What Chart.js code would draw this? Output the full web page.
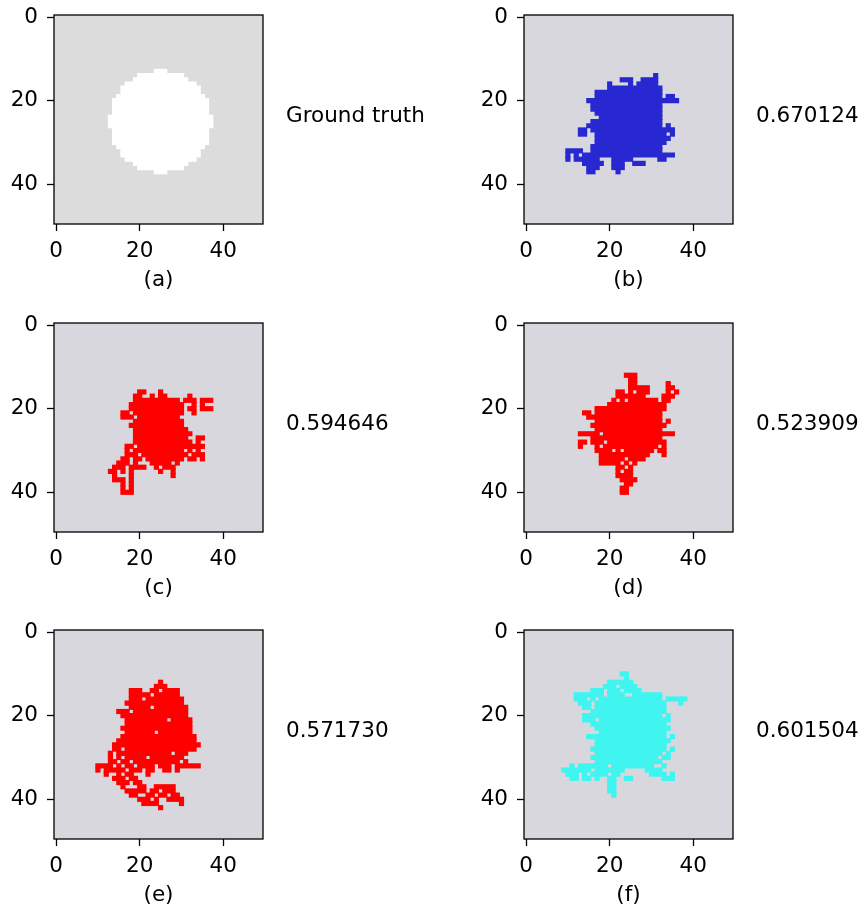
<!DOCTYPE html>
<html>
<head>
<meta charset="utf-8">
<script src="https://cdn.jsdelivr.net/npm/chart.js@4.4.0/dist/chart.umd.min.js"></script>
<style>
  html, body { margin: 0; padding: 0; background: #fff; overflow: hidden; width: 864px; height: 909px; position: relative; }
  canvas { position: absolute; }
</style>
</head>
<body>
<canvas id="pa" width="470" height="300" style="left:0px;top:0px"></canvas>
<canvas id="pb" width="470" height="300" style="left:470px;top:0px"></canvas>
<canvas id="pc" width="470" height="300" style="left:0px;top:308px"></canvas>
<canvas id="pd" width="470" height="300" style="left:470px;top:308px"></canvas>
<canvas id="pe" width="470" height="300" style="left:0px;top:615px"></canvas>
<canvas id="pf" width="470" height="300" style="left:470px;top:615px"></canvas>
<script>
// each mask line is "row:colStart-colEnd,col,..." (pixel runs of the 50x50 image)
const maskA = ["13:24-26","14:20-30","15:19-31","16:17-33","17:16-34","18:16-34","19:15-35",
  "20:14-36","21:14-36","22:14-36","23:14-36","24:13-37","25:13-37","26:13-37","27:14-36",
  "28:14-36","29:14-36","30:14-36","31:15-35","32:16-34","33:16-34","34:17-33","35:19-31",
  "36:20-30","37:24-26"];
const maskB = ["14:31","15:23-25,28-31","16:20,25,27-31","17:20-32","18:17-32","19:17-32,34-35",
  "20:15-36","21:16-32","22:16-32","23:17-32","24:18-32","25:16-32","26:15-32,34","27:13-14,16-35",
  "28:13-14,17-33,35","29:17-34","30:17-33","31:16-32","32:10-13,16-32","33:10,12,14-35",
  "34:10,12-17,21-25,32-33","35:14-18,21-23,26-28","36:15-17,21-23","37:15-16,22"];
const maskC = ["16:20-21,25","17:19-20,23,25-26,32","18:19-29,31-33,35-37","19:18-30,33,35",
  "20:18-30,32-33,35-37","21:16-17,19-30,33","22:16-18,20-29","23:19-30","24:18-30","25:19-31",
  "26:19-32","27:19-31,34-35","28:19-32,34","29:17-18,20-35","30:17,19-30,32,34",
  "31:17-19,21-31,33-35","32:16-17,19-20,22-30,32-33,35","33:15-17,19,23-27,29",
  "34:14-16,18-21,24,26-28","35:13-14,16,18,25,28","36:14,18,28","37:14-16,18","38:16,18",
  "39:16,18","40:16-18"];
const maskD = ["12:24-26","13:25-26","14:25-26,34","15:25-29,34-35","16:22-23,25,27-29,34,36",
  "17:22-28,33-35","18:21,23,25-31,33-34","19:20-33","20:17-33","21:14-15,17-32","22:15-32",
  "23:17-32,34","24:16-33","25:17-32","26:13-17,19-35","27:16-32","28:13-14,16-18,20-33",
  "29:13,17,19-31,33","30:17-20,22,24-30,32-33","31:18-29,33","32:18-23,25-28","33:18-22,24,26",
  "34:22-23,25","35:22,24-25","36:22-25","37:23-26","38:24-25","39:23-24","40:23-24"];
const maskE = ["12:25","13:24-26","14:18-20,23-24,26-29","15:18-22,24-29","16:18-20,22-30","17:17-30",
  "18:18-22,24-31","19:15-17,19-31","20:16-31","21:17-26,28-32","22:17-32","23:16-32","24:17-23,25-32",
  "25:16-33","26:15-33","27:14-34","28:14-15,17-33","29:13,15-27,29-31","30:13,15,17-21,23-30",
  "31:13-14,16-17,19-29,31","32:10-13,15,17-18,20-23,25-27,29-34","33:10,12-16,18-20,22-23,26-27,29",
  "34:12,15,17-18,22","35:14-16,18-19","36:15-17,19-20","37:16,20-21,24-28","38:17-21,23-24,26-28",
  "39:18-19,22-23,25-26,28-29","40:20-22,24,27-30","41:21-24,30","42:25"];
const maskF = ["10:23-24","11:24","12:20-25","13:19-21,23-26","14:16-18,20-22,24-27","15:12-18,20-23,26-32",
  "16:12-14,16,18-32,34-38","17:13-15,17-33,37","18:14-15,17-33","19:16-33","20:14-32,34","21:14-16,18-34",
  "22:16-33","23:17-34","24:18-33","25:15-33,35","26:17-34","27:17-33","28:16-33,35","29:17-32,34",
  "30:16-31,33-34","31:17-32","32:11,13-19,21-30,33","33:9-15,17-23,29-32","34:10-12,14,16-19,21-22,30-33,35",
  "35:11-12,14-15,17,20-21,24-25,33-35","36:20-21","37:20-21","38:20-21","39:21"];

const panelIds = ['pa', 'pb', 'pc', 'pd', 'pe', 'pf'];
const panelMasks = [maskA, maskB, maskC, maskD, maskE, maskF];
const panelTitles = ['(a)', '(b)', '(c)', '(d)', '(e)', '(f)'];
const panelTexts = ['Ground truth', '0.670124', '0.594646', '0.523909', '0.571730', '0.601504'];
const fgColors = ['#ffffff', '#2828d2', '#ff0000', '#ff0000', '#ff0000', '#40f4f0'];
const bgColors = ['#dcdcdc', '#d8d7de', '#d8d7de', '#d8d7de', '#d8d7de', '#d8d7de'];
const tickValues = [0, 20, 40];

const FONT = {family: 'DejaVu Sans', size: 21.5};

function runsToBars(mask) {
    var bars = [];
    mask.forEach(function (line) {
        var parts = line.split(':');
        var row = +parts[0];
        parts[1].split(',').forEach(function (span) {
            var ab = span.split('-');
            var c0 = +ab[0], c1 = ab.length > 1 ? +ab[1] : +ab[0];
            bars.push({y: row, x: [c0 - 0.5, c1 + 0.5]});
        });
    });
    return bars;
}

// image background, frame and the side text
const panelDeco = {
    id: 'panelDeco',
    beforeDatasetsDraw: function (chart, args, opts) {
        var a = chart.chartArea, ctx = chart.ctx;
        ctx.save();
        ctx.fillStyle = opts.bg;
        ctx.fillRect(a.left, a.top, a.right - a.left, a.bottom - a.top);
        ctx.restore();
    },
    afterDraw: function (chart, args, opts) {
        var a = chart.chartArea, ctx = chart.ctx;
        ctx.save();
        ctx.strokeStyle = '#000';
        ctx.lineWidth = 1.3;
        ctx.strokeRect(a.left, a.top, a.right - a.left, a.bottom - a.top);
        ctx.fillStyle = '#000';
        ctx.font = FONT.size + 'px "DejaVu Sans"';
        ctx.textAlign = 'left';
        ctx.textBaseline = 'alphabetic';
        ctx.fillText(opts.text, chart.scales.x.getPixelForValue(55), chart.scales.y.getPixelForValue(25));
        ctx.restore();
    }
};

function axisTicks(scale) {
    scale.ticks = tickValues.map(function (v) { return {value: v}; });
}

panelIds.forEach(function (id, i) {
    var canvas = document.getElementById(id);
    var grid = {display: true, drawOnChartArea: false, drawTicks: true, offset: false,
        tickLength: 7, tickWidth: 1.3, tickColor: '#000'};
    new Chart(canvas, {
        type: 'bar',
        data: {
            datasets: [{
                data: runsToBars(panelMasks[i]),
                backgroundColor: fgColors[i],
                borderWidth: 0,
                barPercentage: 1,
                categoryPercentage: 1,
                inflateAmount: 0.5,
                grouped: false
            }]
        },
        options: {
            responsive: false,
            animation: false,
            indexAxis: 'y',
            layout: {padding: {left: 0, top: 15, right: 207, bottom: 0}},
            plugins: {
                legend: {display: false},
                tooltip: {enabled: false},
                panelDeco: {bg: bgColors[i], text: panelTexts[i]}
            },
            scales: {
                x: {
                    type: 'linear', min: -0.5, max: 49.5, offset: false,
                    afterBuildTicks: axisTicks,
                    afterFit: function (s) {
                        s.height = 76;
                        s.paddingLeft = 0; s.paddingRight = 0;
                    },
                    grid: grid,
                    border: {display: false},
                    ticks: {color: '#000', font: FONT, padding: 8, maxRotation: 0},
                    title: {display: true, text: panelTitles[i], color: '#000', font: FONT,
                        padding: {top: 0, bottom: 7}}
                },
                y: {
                    type: 'linear', reverse: true, min: -0.5, max: 49.5, offset: false,
                    afterBuildTicks: axisTicks,
                    afterFit: function (s) {
                        s.width = 54;
                        s.paddingTop = 0; s.paddingBottom = 0;
                    },
                    grid: grid,
                    border: {display: false},
                    ticks: {color: '#000', font: FONT, padding: 9}
                }
            }
        },
        plugins: [panelDeco]
    });
});
</script>
</body>
</html>
